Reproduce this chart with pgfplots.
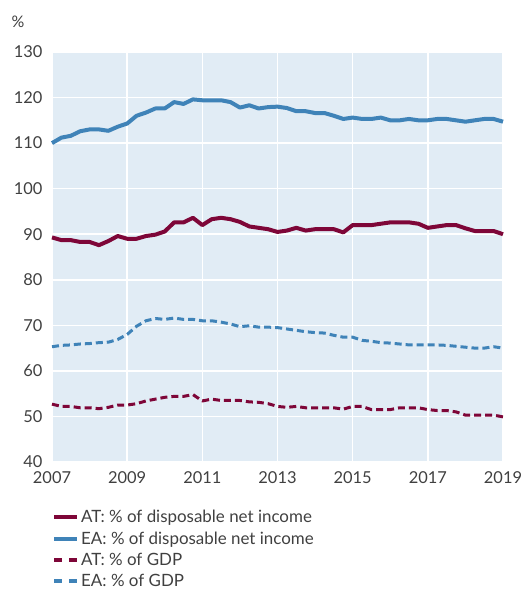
\documentclass[border=0pt]{standalone}
\usepackage{pgfplots}
\pgfplotsset{compat=1.18}
\usepackage{pgfplotstable}
\usepackage{fontspec}
\setmainfont{Lato}
\definecolor{atred}{HTML}{7E0638}
\definecolor{eablue}{HTML}{3F83B8}
\definecolor{bgblue}{HTML}{E1ECF5}
\definecolor{txt}{HTML}{404040}
\pgfplotstableread{
x atd ead atg eag
2007.00 89.3 110.0 52.7 65.3
2007.25 88.7 111.2 52.2 65.6
2007.50 88.7 111.6 52.2 65.7
2007.75 88.3 112.6 51.9 65.9
2008.00 88.3 113.0 51.9 66.0
2008.25 87.6 113.0 51.7 66.2
2008.50 88.5 112.7 52.0 66.3
2008.75 89.6 113.6 52.5 66.9
2009.00 89.0 114.3 52.5 68.0
2009.25 89.0 116.0 52.8 69.8
2009.50 89.6 116.7 53.4 71.0
2009.75 89.9 117.6 53.8 71.5
2010.00 90.6 117.6 54.2 71.3
2010.25 92.6 119.0 54.4 71.6
2010.50 92.6 118.6 54.4 71.3
2010.75 93.6 119.6 54.8 71.3
2011.00 92.0 119.4 53.4 71.0
2011.25 93.3 119.4 53.8 71.0
2011.50 93.6 119.4 53.5 70.7
2011.75 93.3 119.0 53.5 70.3
2012.00 92.7 117.8 53.5 69.7
2012.25 91.7 118.3 53.2 69.9
2012.50 91.4 117.6 53.1 69.6
2012.75 91.1 117.9 52.8 69.6
2013.00 90.5 118.0 52.2 69.5
2013.25 90.8 117.7 52.0 69.2
2013.50 91.4 117.0 52.2 68.9
2013.75 90.8 117.0 51.9 68.6
2014.00 91.1 116.6 51.9 68.4
2014.25 91.1 116.6 51.9 68.3
2014.50 91.1 116.0 51.9 67.8
2014.75 90.4 115.3 51.6 67.4
2015.00 92.0 115.6 52.2 67.4
2015.25 92.0 115.3 52.2 66.7
2015.50 92.0 115.3 51.5 66.5
2015.75 92.3 115.6 51.5 66.2
2016.00 92.6 115.0 51.5 66.1
2016.25 92.6 115.0 51.9 65.9
2016.50 92.6 115.3 51.9 65.7
2016.75 92.3 115.0 51.9 65.7
2017.00 91.4 115.0 51.5 65.7
2017.25 91.7 115.3 51.3 65.7
2017.50 92.0 115.3 51.3 65.6
2017.75 92.0 115.0 51.0 65.4
2018.00 91.3 114.7 50.3 65.2
2018.25 90.7 115.0 50.3 65.0
2018.50 90.7 115.3 50.3 65.0
2018.75 90.7 115.3 50.3 65.3
2019.00 90.0 114.7 49.9 65.0
}\data
\begin{document}
\begin{tikzpicture}[x=1bp,y=1bp]
\useasboundingbox (0,0) rectangle (523,595);
\begin{axis}[
  at={(52bp,133bp)}, anchor=south west,
  scale only axis, width=451bp, height=410bp,
  xmin=2007, xmax=2019, ymin=40, ymax=130,
  xtick={2007,2009,...,2019}, ytick={40,50,...,130},
  x tick label style={/pgf/number format/1000 sep={}},
  /pgf/number format/assume math mode=true,
  tick label style={font=\fontsize{16.5}{19}\selectfont, text=txt},
  yticklabel style={xshift=-6bp},
  xticklabel style={yshift=-6bp},
  axis line style={draw=none},
  major tick length=0pt,
  grid=major,
  grid style={white, line width=1.5bp},
  axis background/.style={fill=bgblue},
  legend cell align=left,
  legend style={draw=none, fill=none, at={(0,-0.112)}, anchor=north west,
    font=\fontsize{17}{20}\selectfont, text=txt, inner xsep=0pt, inner ysep=0pt,
    row sep=3.5bp, /tikz/every even column/.append style={column sep=0pt}},
  clip=false,
]
\addplot[atred, line width=4bp, line join=round,
  legend image code/.code={\draw[atred, line width=4bp] (0bp,0bp) -- (23bp,0bp);}]
  table[x=x,y=atd]{\data};
\addlegendentry{AT: \% of disposable net income}
\addplot[eablue, line width=4bp, line join=round,
  legend image code/.code={\draw[eablue, line width=4bp] (0bp,0bp) -- (23bp,0bp);}]
  table[x=x,y=ead]{\data};
\addlegendentry{EA: \% of disposable net income}
\addplot[atred, line width=3bp, line join=round, dash pattern=on 7bp off 4bp,
  legend image code/.code={\draw[atred, line width=4bp, dash pattern=on 8bp off 7bp] (0bp,0bp) -- (23bp,0bp);}]
  table[x=x,y=atg]{\data};
\addlegendentry{AT: \% of GDP}
\addplot[eablue, line width=3bp, line join=round, dash pattern=on 7bp off 4bp,
  legend image code/.code={\draw[eablue, line width=4bp, dash pattern=on 8bp off 7bp] (0bp,0bp) -- (23bp,0bp);}]
  table[x=x,y=eag]{\data};
\addlegendentry{EA: \% of GDP}
\node[anchor=west, text=txt, font=\fontsize{16}{19}\selectfont] at ([xshift=-44bp,yshift=30bp]rel axis cs:0,1) {\%};
\end{axis}
\end{tikzpicture}
\end{document}
